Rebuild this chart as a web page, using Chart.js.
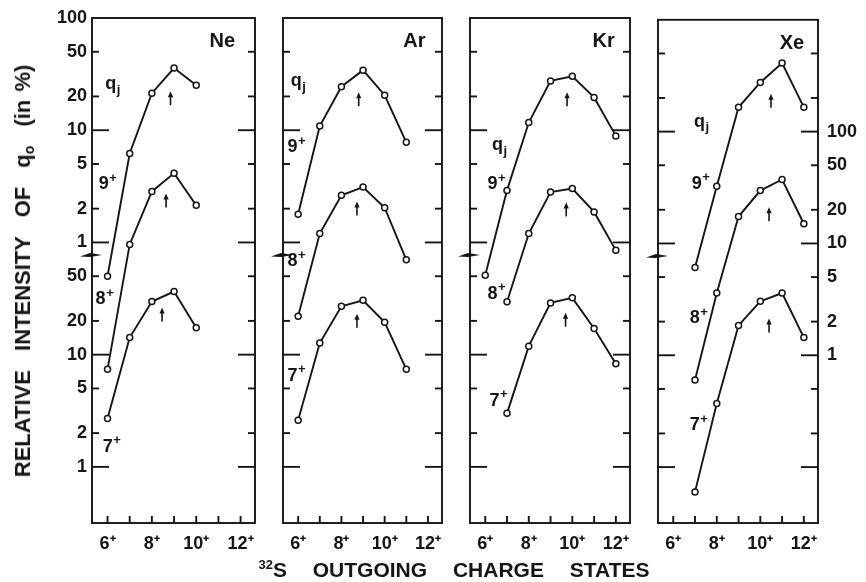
<!DOCTYPE html>
<html>
<head>
<meta charset="utf-8">
<script src="https://cdn.jsdelivr.net/npm/chart.js@4.4.0/dist/chart.umd.min.js"></script>
<style>
  html, body { margin: 0; padding: 0; background: #fff; }
  #wrap { position: relative; width: 866px; height: 582px; overflow: hidden;
          font-family: "Liberation Sans", Arial, sans-serif; color: #151515; }
  #wrap canvas { position: absolute; left: 0; top: 0; }
  .ytitle { position: absolute; left: 23px; top: 271px; white-space: nowrap;
            transform: translate(-50%, -50%) rotate(-90deg);
            font-weight: bold; font-size: 22px; word-spacing: 13px; }
  .ytitle .tight { word-spacing: 2px; }
  .xtitle { position: absolute; left: 454px; top: 570px; white-space: nowrap;
            transform: translate(-50%, -50%);
            font-weight: bold; font-size: 21px; word-spacing: 20px; }
  sup { font-size: 13px; vertical-align: 8px; line-height: 0; }
  sub { font-size: 14px; vertical-align: -4px; line-height: 0; }
</style>
</head>
<body>
<div id="wrap">
  <canvas id="cNe" width="866" height="582"></canvas>
  <canvas id="cAr" width="866" height="582"></canvas>
  <canvas id="cKr" width="866" height="582"></canvas>
  <canvas id="cXe" width="866" height="582"></canvas>
  <div class="ytitle">RELATIVE INTENSITY OF q<sub>o</sub> <span class="tight">(in %)</span></div>
  <div class="xtitle"><sup>32</sup>S OUTGOING CHARGE STATES</div>
</div>
<script>
// --- data ---
const charges = [6, 7, 8, 9, 10, 11, 12];
const chargeLabels = ['6⁺', '', '8⁺', '', '10⁺', '', '12⁺'];

// one continuous log axis: upper decade labels = value, lower block labels = value * 100
const leftTicks = [100, 50, 20, 10, 5, 2, 1, 0.5, 0.2, 0.1, 0.05, 0.02, 0.01];
const majorTicks = [10, 1, 0.1, 0.01];
const rightTicks = [100, 50, 20, 10, 5, 2, 1];   // Xe scale (value * 10)

const neQ9 = [0.50, 6.2, 21.4, 35.8, 25.2, null, null];
const neQ8 = [0.074, 0.96, 2.85, 4.13, 2.14, null, null];
const neQ7 = [0.027, 0.142, 0.297, 0.365, 0.174, null, null];

const arQ9 = [1.78, 10.9, 24.4, 34.3, 20.5, 7.8, null];
const arQ8 = [0.220, 1.20, 2.63, 3.12, 2.04, 0.70, null];
const arQ7 = [0.026, 0.127, 0.270, 0.305, 0.194, 0.074, null];

const krQ9 = [0.51, 2.91, 11.7, 27.5, 30.2, 19.6, 8.9];
const krQ8 = [null, 0.296, 1.20, 2.81, 3.02, 1.87, 0.85];
const krQ7 = [null, 0.030, 0.119, 0.289, 0.321, 0.171, 0.083];

const xeQ9 = [null, 0.61, 3.25, 16.5, 27.5, 41.1, 16.5];
const xeQ8 = [null, 0.060, 0.36, 1.74, 2.97, 3.73, 1.50];
const xeQ7 = [null, 0.0060, 0.037, 0.185, 0.304, 0.36, 0.144];

// mean charge arrows [charge, value] for 9+, 8+, 7+
const neArrows = [[8.84, 19.3], [8.64, 2.37], [8.46, 0.228]];
const arArrows = [[8.80, 18.9], [8.72, 2.01], [8.72, 0.201]];
const krArrows = [[9.76, 18.9], [9.72, 1.97], [9.69, 0.205]];
const xeArrows = [[10.49, 18.9], [10.40, 1.82], [10.40, 0.185]];

const ink = '#151515';
const FONT = '"Liberation Sans", Arial, sans-serif';
const Y_MIN = Math.pow(10, -2.5), Y_MAX = 100;
const breakValue = 0.765;

// --- panels ---
const panels = [
  { canvas: 'cNe', name: 'Ne', left: 92, right: 255, series: [neQ9, neQ8, neQ7], arrows: neArrows,
    leftAxis: true, nameAt: [11.18, 62],
    labels: [['q', null, 'j', 6.23, 25.7], ['9', '+', null, 6.0, 3.3], ['8', '+', null, 5.86, 0.31], ['7', '+', null, 6.18, 0.0151]] },
  { canvas: 'cAr', name: 'Ar', left: 283, right: 442, series: [arQ9, arQ8, arQ7], arrows: arArrows,
    nameAt: [11.37, 62],
    labels: [['q', null, 'j', 6.0, 27.4], ['9', '+', null, 5.92, 7.05], ['8', '+', null, 5.92, 0.677], ['7', '+', null, 5.92, 0.065]] },
  { canvas: 'cKr', name: 'Kr', left: 470, right: 630, series: [krQ9, krQ8, krQ7], arrows: krArrows,
    nameAt: [11.44, 62],
    labels: [['q', null, 'j', 6.65, 7.35], ['9', '+', null, 6.51, 3.3], ['8', '+', null, 6.51, 0.35], ['7', '+', null, 6.6, 0.0388]] },
  { canvas: 'cXe', name: 'Xe', left: 658, right: 818, series: [xeQ9, xeQ8, xeQ7], arrows: xeArrows,
    rightAxis: true, nameAt: [11.45, 62],
    labels: [['q', null, 'j', 7.29, 12.3], ['9', '+', null, 7.25, 3.43], ['8', '+', null, 7.16, 0.214], ['7', '+', null, 7.16, 0.0237]] }
];

function drawLabel(ctx, base, sup, sub, px, py) {
  ctx.font = 'bold 18px ' + FONT;
  const wb = ctx.measureText(base).width;
  ctx.font = 'bold 13px ' + FONT;
  const ws = ctx.measureText(sup || sub).width;
  let x0 = px - (wb + ws) / 2;
  ctx.textAlign = 'left';
  ctx.textBaseline = 'middle';
  ctx.font = 'bold 18px ' + FONT;
  ctx.fillText(base, x0, py);
  ctx.font = 'bold 13px ' + FONT;
  ctx.fillText(sup || sub, x0 + wb + 0.5, sup ? py - 6 : py + 6);
}

function drawArrow(ctx, px, py) {
  ctx.lineWidth = 1.6;
  ctx.beginPath(); ctx.moveTo(px, py + 7); ctx.lineTo(px, py - 2); ctx.stroke();
  ctx.beginPath(); ctx.moveTo(px, py - 7); ctx.lineTo(px - 2.6, py - 1); ctx.lineTo(px + 2.6, py - 1);
  ctx.closePath(); ctx.fill();
}

const framePlugin = {
  id: 'frame',
  afterDatasetsDraw(chart, args, opts) {
    const { ctx, chartArea: a, scales } = chart;
    const xs = scales.x, ys = scales.y;
    const seg = (x1, y1, x2, y2) => { ctx.beginPath(); ctx.moveTo(x1, y1); ctx.lineTo(x2, y2); ctx.stroke(); };
    ctx.save();
    ctx.strokeStyle = ink; ctx.fillStyle = ink;
    ctx.lineWidth = 1.9;
    ctx.strokeRect(a.left, a.top, a.right - a.left, a.bottom - a.top);
    leftTicks.forEach(v => {
      if (v >= Y_MAX) return;
      const py = ys.getPixelForValue(v);
      const len = majorTicks.includes(v) ? 17 : 7;
      seg(a.left, py, a.left + len, py);
      seg(a.right, py, a.right - len, py);
    });
    charges.forEach(c => {
      const px = xs.getPixelForValue(c);
      seg(px, a.bottom, px, a.bottom - 7);
    });
    // axis break mark on the left edge
    const by = ys.getPixelForValue(breakValue);
    ctx.beginPath();
    ctx.moveTo(a.left - 12, by + 1);
    ctx.lineTo(a.left - 2, by - 2.5);
    ctx.lineTo(a.left + 10, by - 0.5);
    ctx.lineTo(a.left - 2, by + 1.5);
    ctx.closePath();
    ctx.fill();
    // panel name
    ctx.font = 'bold 20px ' + FONT;
    ctx.textAlign = 'center'; ctx.textBaseline = 'middle';
    ctx.fillText(opts.name, xs.getPixelForValue(opts.nameAt[0]), ys.getPixelForValue(opts.nameAt[1]));
    opts.labels.forEach(l => drawLabel(ctx, l[0], l[1], l[2], xs.getPixelForValue(l[3]), ys.getPixelForValue(l[4])));
    opts.arrows.forEach(p => drawArrow(ctx, xs.getPixelForValue(p[0]), ys.getPixelForValue(p[1])));
    ctx.restore();
  }
};

const noGrid = { display: false, drawTicks: false, tickLength: 0 };

panels.forEach(p => {
  const datasets = p.series.map(vals => ({
    data: charges.map((c, i) => ({ x: c, y: vals[i] })).filter(pt => pt.y !== null),
    borderColor: ink,
    borderWidth: 1.9,
    pointRadius: 3,
    pointBorderWidth: 1.5,
    pointBorderColor: ink,
    pointBackgroundColor: '#fff',
    tension: 0,
    yAxisID: 'y'
  }));

  const scales = {
    x: {
      type: 'linear', min: 5.3, max: 12.65,
      grid: noGrid, border: { display: false },
      afterBuildTicks: s => { s.ticks = charges.map(v => ({ value: v })); },
      afterFit: s => { s.height = 582 - 523; },
      ticks: {
        autoSkip: false, maxRotation: 0, padding: 10, color: ink,
        font: { family: FONT, size: 18, weight: 'bold' },
        callback: (v) => chargeLabels[charges.indexOf(v)]
      }
    },
    y: {
      type: 'logarithmic', min: Y_MIN, max: Y_MAX,
      display: !!p.leftAxis,
      position: 'left',
      grid: noGrid, border: { display: false },
      afterBuildTicks: s => { s.ticks = leftTicks.map(v => ({ value: v })); },
      afterFit: s => { s.width = p.leftAxis ? p.left : 0; },
      ticks: {
        autoSkip: false, padding: 5, color: ink,
        font: { family: FONT, size: 18, weight: 'bold' },
        callback: v => v >= 1 ? String(v) : String(Math.round(v * 100))
      }
    }
  };
  if (p.rightAxis) {
    scales.yR = {
      type: 'logarithmic', min: Y_MIN * 10, max: Y_MAX * 10,
      position: 'right',
      grid: noGrid, border: { display: false },
      afterBuildTicks: s => { s.ticks = rightTicks.map(v => ({ value: v })); },
      afterFit: s => { s.width = 866 - p.right; },
      ticks: {
        autoSkip: false, padding: 9, color: ink,
        font: { family: FONT, size: 18, weight: 'bold' },
        callback: v => String(v)
      }
    };
  }

  new Chart(document.getElementById(p.canvas), {
    type: 'line',
    data: { datasets: datasets },
    options: {
      responsive: false,
      animation: false,
      layout: {
        padding: {
          top: 18, bottom: 0,
          left: p.leftAxis ? 0 : p.left,
          right: p.rightAxis ? 0 : 866 - p.right
        }
      },
      plugins: {
        legend: { display: false },
        tooltip: { enabled: false },
        frame: { name: p.name, nameAt: p.nameAt, labels: p.labels, arrows: p.arrows }
      },
      scales: scales
    },
    plugins: [framePlugin]
  });
});
</script>
</body>
</html>
